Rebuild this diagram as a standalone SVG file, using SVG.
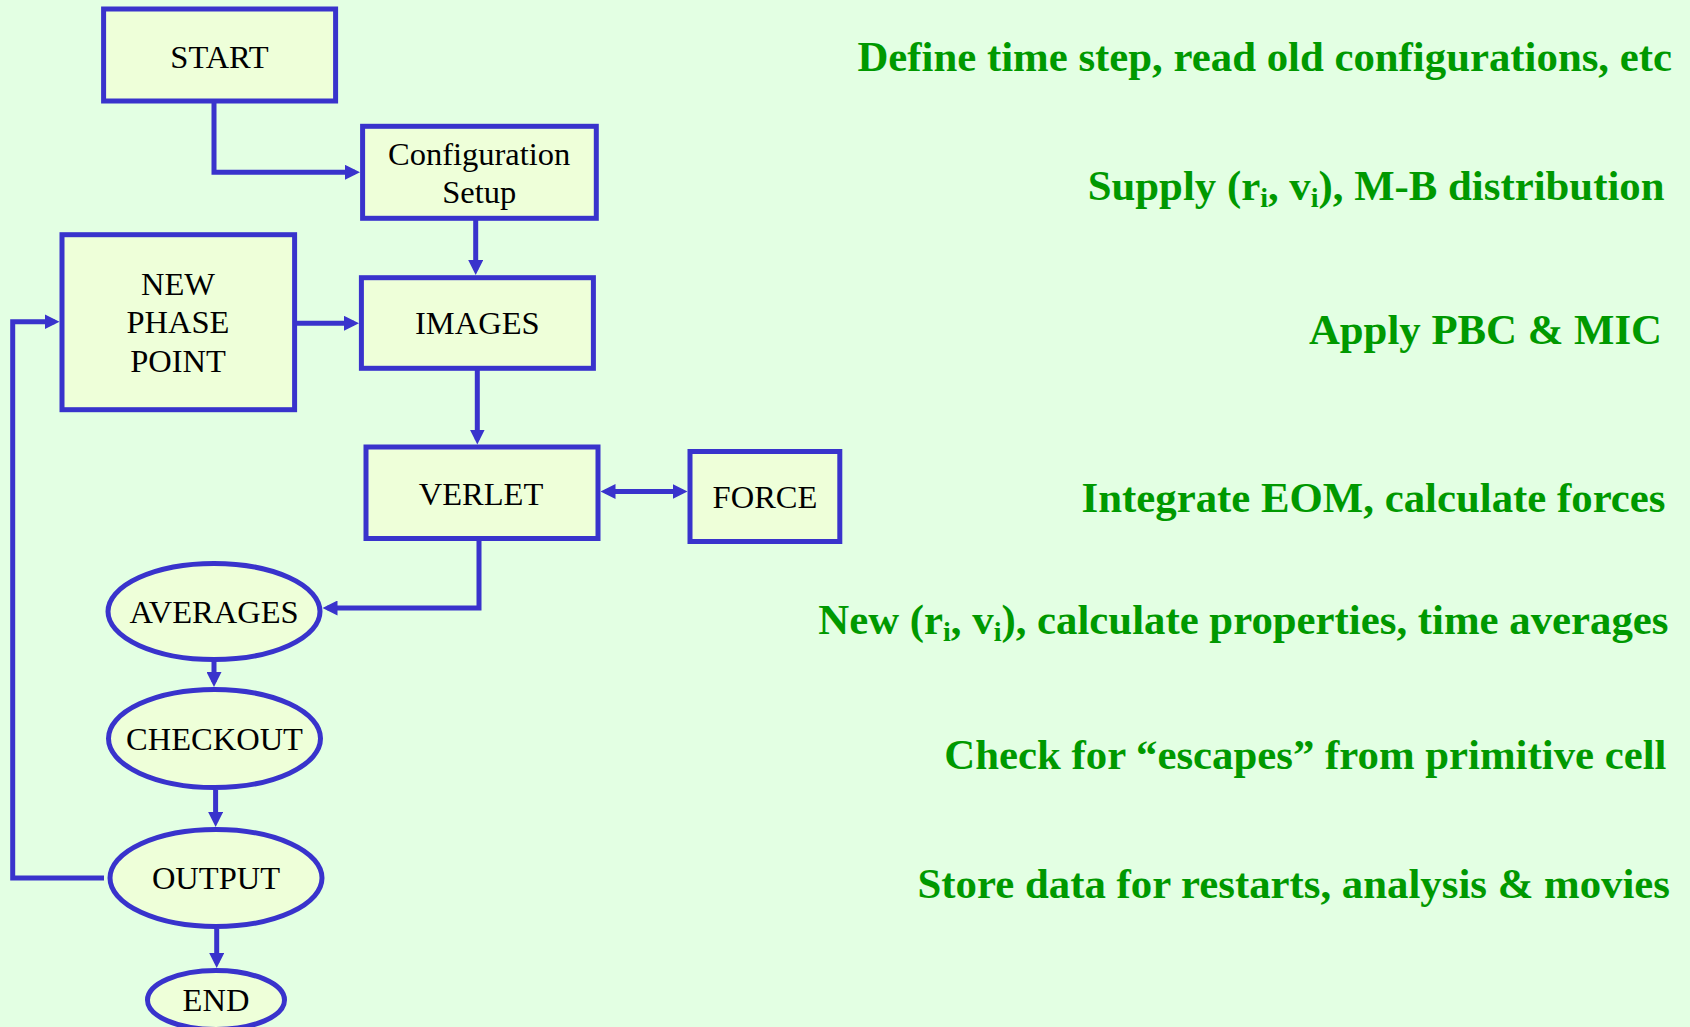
<svg xmlns="http://www.w3.org/2000/svg" width="1690" height="1027" viewBox="0 0 1690 1027">
<defs>
<style>
.box{fill:#EEFFD9;stroke:#3933CC;stroke-width:5}
.lbl{font-family:"Liberation Serif","Times New Roman",serif;font-size:32.5px;fill:#000;text-anchor:middle}
.note{font-family:"Liberation Serif","Times New Roman",serif;font-size:42.8px;font-weight:bold;fill:#009900;text-anchor:end}
.sub{font-size:28px}
.conn{fill:none;stroke:#3933CC;stroke-width:5}
</style>
<marker id="ah" viewBox="0 0 15 15" refX="10" refY="7.5" markerWidth="15" markerHeight="15" markerUnits="userSpaceOnUse" orient="auto-start-reverse">
<path d="M0,0 L15,7.5 L0,15 z" fill="#3933CC"/>
</marker>
</defs>
<rect width="1690" height="1027" fill="#E3FFE3"/>

<g id="connectors">
<path class="conn" d="M214,101 V172.3 H355" marker-end="url(#ah)"/>
<path class="conn" d="M475.7,218 V270" marker-end="url(#ah)"/>
<path class="conn" d="M294.6,323.3 H354" marker-end="url(#ah)"/>
<path class="conn" d="M477.3,368 V439.5" marker-end="url(#ah)"/>
<path class="conn" d="M605.5,491.5 H682.5" marker-start="url(#ah)" marker-end="url(#ah)"/>
<path class="conn" d="M479,538 V608 H327.5" marker-end="url(#ah)"/>
<path class="conn" d="M214,660 V682" marker-end="url(#ah)"/>
<path class="conn" d="M215.6,790 V822" marker-end="url(#ah)"/>
<path class="conn" d="M216.7,929 V963" marker-end="url(#ah)"/>
<path class="conn" d="M104,878 H12.7 V321.7 H54.5" marker-end="url(#ah)"/>
</g>

<g id="start">
<rect class="box" x="103.6" y="9" width="232" height="92"/>
<text class="lbl" x="219.5" y="68">START</text>
</g>
<g id="config">
<rect class="box" x="362.6" y="126.3" width="233.7" height="92"/>
<text class="lbl" x="479.2" y="165">Configuration</text>
<text class="lbl" x="479.2" y="203">Setup</text>
</g>
<g id="newphase">
<rect class="box" x="62" y="234.7" width="232.6" height="175"/>
<text class="lbl" x="178" y="295">NEW</text>
<text class="lbl" x="178" y="333">PHASE</text>
<text class="lbl" x="178" y="372">POINT</text>
</g>
<g id="images">
<rect class="box" x="361.4" y="277.7" width="232" height="90.6"/>
<text class="lbl" x="477.3" y="334">IMAGES</text>
</g>
<g id="verlet">
<rect class="box" x="366" y="447" width="232" height="91.5"/>
<text class="lbl" x="481" y="505">VERLET</text>
</g>
<g id="force">
<rect class="box" x="690" y="451.5" width="149.8" height="90"/>
<text class="lbl" x="765" y="508">FORCE</text>
</g>
<g id="averages">
<ellipse class="box" cx="214" cy="611.5" rx="106" ry="48"/>
<text class="lbl" x="214" y="623">AVERAGES</text>
</g>
<g id="checkout">
<ellipse class="box" cx="214.5" cy="738.5" rx="106" ry="49"/>
<text class="lbl" x="214.5" y="750">CHECKOUT</text>
</g>
<g id="output">
<ellipse class="box" cx="216" cy="878" rx="106" ry="48.5"/>
<text class="lbl" x="216" y="889">OUTPUT</text>
</g>
<g id="end">
<ellipse class="box" cx="216" cy="1000" rx="68.5" ry="29.5"/>
<text class="lbl" x="216" y="1011">END</text>
</g>

<g id="notes">
<text class="note" x="1672" y="71">Define time step, read old configurations, etc</text>
<text class="note" x="1664.5" y="200">Supply (r<tspan class="sub" dy="7">i</tspan><tspan dy="-7">, v</tspan><tspan class="sub" dy="7">i</tspan><tspan dy="-7">), M-B distribution</tspan></text>
<text class="note" x="1662" y="343.5">Apply PBC &amp; MIC</text>
<text class="note" x="1665.5" y="511.5">Integrate EOM, calculate forces</text>
<text class="note" x="1668.5" y="633.5">New (r<tspan class="sub" dy="7">i</tspan><tspan dy="-7">, v</tspan><tspan class="sub" dy="7">i</tspan><tspan dy="-7">), calculate properties, time averages</tspan></text>
<text class="note" x="1666.5" y="768.5">Check for “escapes” from primitive cell</text>
<text class="note" x="1670" y="897.5">Store data for restarts, analysis &amp; movies</text>
</g>
</svg>
